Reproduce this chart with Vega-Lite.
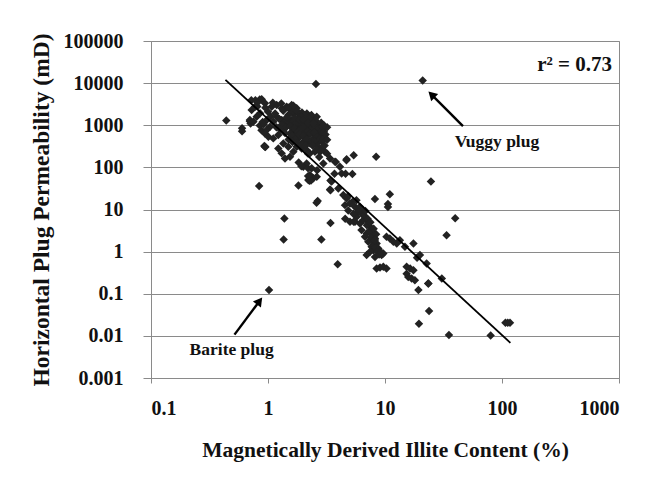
{
  "$schema": "https://vega.github.io/schema/vega-lite/v6.json",
  "width": 468,
  "height": 337,
  "autosize": "none",
  "padding": {"left": 151, "top": 41, "right": 31, "bottom": 101},
  "background": "white",
  "config": {
    "view": {"stroke": "#8a8a8a", "strokeWidth": 1},
    "font": "Liberation Serif"
  },
  "layer": [
    {
      "data": {"values": [
        {"illite":0.44,"perm":1300},{"illite":0.60,"perm":850},{"illite":0.60,"perm":720},{"illite":0.70,"perm":1250},{"illite":0.71,"perm":1100},{"illite":0.70,"perm":1330},{"illite":0.72,"perm":3900},{"illite":0.78,"perm":3900},{"illite":0.85,"perm":4100},{"illite":0.81,"perm":2800},{"illite":0.84,"perm":36},{"illite":0.93,"perm":320},{"illite":0.95,"perm":305},{"illite":0.88,"perm":760},{"illite":0.942,"perm":309},
        {"illite":0.725,"perm":2300},{"illite":0.774,"perm":2760},{"illite":0.827,"perm":3620},{"illite":0.883,"perm":4120},{"illite":0.942,"perm":3310},{"illite":0.855,"perm":1915},{"illite":0.80,"perm":1600},{"illite":0.75,"perm":1215},
        {"illite":1.074,"perm":2760},{"illite":1.186,"perm":3020},{"illite":1.309,"perm":2520},{"illite":1.444,"perm":2760},{"illite":1.593,"perm":3020},{"illite":1.758,"perm":2520},{"illite":1.646,"perm":1915},{"illite":1.492,"perm":1750},{"illite":1.816,"perm":1915},{"illite":1.186,"perm":1600},{"illite":1.11,"perm":1215},{"illite":1.04,"perm":923},{"illite":0.974,"perm":769},{"illite":0.942,"perm":641},{"illite":1.007,"perm":535},{"illite":1.11,"perm":488},{"illite":1.225,"perm":586},{"illite":1.352,"perm":769},{"illite":1.444,"perm":1012},{"illite":1.309,"perm":1330},
        {"illite":1.542,"perm":1110},{"illite":1.758,"perm":923},{"illite":2.005,"perm":1110},{"illite":2.14,"perm":843},{"illite":2.285,"perm":923},{"illite":2.44,"perm":769},{"illite":2.61,"perm":641},{"illite":2.78,"perm":586},{"illite":2.44,"perm":488},{"illite":2.14,"perm":535},{"illite":1.94,"perm":641},{"illite":1.816,"perm":488},{"illite":2.005,"perm":407},{"illite":2.285,"perm":371},{"illite":2.61,"perm":371},{"illite":2.88,"perm":407},{"illite":2.97,"perm":535},{"illite":2.69,"perm":1012},{"illite":2.44,"perm":1330},{"illite":2.21,"perm":1600},{"illite":2.61,"perm":1600},{"illite":2.97,"perm":843},
        {"illite":1.646,"perm":769},{"illite":1.88,"perm":769},{"illite":2.07,"perm":702},{"illite":1.70,"perm":586},{"illite":1.593,"perm":1330},{"illite":1.94,"perm":1450},{"illite":2.36,"perm":1110},{"illite":2.78,"perm":769},{"illite":1.758,"perm":1330},{"illite":1.542,"perm":641},{"illite":2.21,"perm":440},{"illite":2.52,"perm":586},
        {"illite":1.352,"perm":371},{"illite":1.225,"perm":282},{"illite":1.309,"perm":215},{"illite":1.397,"perm":163},{"illite":1.542,"perm":179},{"illite":1.646,"perm":235},{"illite":1.492,"perm":309},{"illite":1.758,"perm":309},{"illite":1.94,"perm":282},{"illite":2.14,"perm":258},{"illite":2.285,"perm":215},{"illite":2.52,"perm":235},{"illite":2.78,"perm":235},{"illite":3.07,"perm":235},{"illite":3.39,"perm":163},{"illite":3.74,"perm":136},{"illite":2.14,"perm":124},{"illite":2.005,"perm":104},{"illite":2.36,"perm":95},{"illite":2.285,"perm":66},{"illite":2.44,"perm":55},{"illite":2.61,"perm":60},{"illite":2.21,"perm":50},
        {"illite":4.70,"perm":155},{"illite":4.12,"perm":104},{"illite":4.26,"perm":72},
        {"illite":1.25,"perm":1400},{"illite":1.38,"perm":1200},{"illite":1.47,"perm":1300},{"illite":1.62,"perm":1180},{"illite":1.70,"perm":1050},{"illite":1.85,"perm":1200},{"illite":1.98,"perm":980},{"illite":2.1,"perm":1250},{"illite":2.25,"perm":1050},{"illite":2.35,"perm":860},{"illite":2.55,"perm":900},{"illite":2.7,"perm":820},{"illite":2.85,"perm":700},{"illite":1.3,"perm":1000},{"illite":1.42,"perm":880},{"illite":1.55,"perm":950},{"illite":1.68,"perm":850},{"illite":1.8,"perm":700},{"illite":1.9,"perm":820},{"illite":2.02,"perm":880},{"illite":2.18,"perm":720},{"illite":2.3,"perm":640},{"illite":2.48,"perm":680},{"illite":2.62,"perm":520},{"illite":2.75,"perm":470},{"illite":1.18,"perm":900},{"illite":1.28,"perm":780},{"illite":1.4,"perm":650},{"illite":1.6,"perm":560},{"illite":1.72,"perm":470},{"illite":1.85,"perm":600},{"illite":2.0,"perm":560},{"illite":2.12,"perm":460},{"illite":2.35,"perm":430},{"illite":2.5,"perm":420},{"illite":1.5,"perm":460},{"illite":1.62,"perm":400},{"illite":1.78,"perm":380},{"illite":1.95,"perm":350},{"illite":2.1,"perm":330},{"illite":2.4,"perm":330},{"illite":2.7,"perm":300},{"illite":1.15,"perm":1900},{"illite":1.35,"perm":2200},{"illite":1.55,"perm":2350},{"illite":1.75,"perm":2200},{"illite":1.95,"perm":2000},{"illite":2.15,"perm":1900},{"illite":2.35,"perm":1750},{"illite":2.55,"perm":1300},{"illite":2.85,"perm":1150},{"illite":1.05,"perm":1600},{"illite":0.98,"perm":1350},{"illite":0.9,"perm":1200},{"illite":0.85,"perm":980},{"illite":0.92,"perm":1050},{"illite":1.0,"perm":2100},{"illite":0.95,"perm":2600},{"illite":1.1,"perm":3400},{"illite":1.3,"perm":3300},{"illite":1.5,"perm":2600},{"illite":1.65,"perm":2900},{"illite":1.45,"perm":1550},{"illite":2.05,"perm":1700},{"illite":2.25,"perm":1400},{"illite":1.9,"perm":1600},{"illite":1.7,"perm":1500},{"illite":1.85,"perm":1350},{"illite":2.0,"perm":1350},{"illite":2.2,"perm":1150},{"illite":2.45,"perm":1100},{"illite":2.9,"perm":950},{"illite":3.0,"perm":700},{"illite":3.1,"perm":600},{"illite":2.95,"perm":460},{"illite":3.2,"perm":450},{"illite":3.05,"perm":330},{"illite":2.85,"perm":280},{"illite":2.6,"perm":270},{"illite":3.2,"perm":900},{"illite":3.0,"perm":1000},
        {"illite":2.2,"perm":212},{"illite":2.8,"perm":240},{"illite":3.2,"perm":212},{"illite":2.74,"perm":177},{"illite":2.97,"perm":123},{"illite":3.8,"perm":135},{"illite":4.6,"perm":71},{"illite":3.7,"perm":71},{"illite":2.2,"perm":95},{"illite":2.63,"perm":85},{"illite":2.33,"perm":49},{"illite":2.2,"perm":62},{"illite":1.83,"perm":130},{"illite":1.93,"perm":107},{"illite":4.68,"perm":148},{"illite":5.4,"perm":195},{"illite":5.26,"perm":70},{"illite":2.26,"perm":48},{"illite":3.39,"perm":30},{"illite":3.5,"perm":46},{"illite":3.99,"perm":31.7},{"illite":4.4,"perm":22},{"illite":4.7,"perm":18.3},{"illite":3.42,"perm":28.6},{"illite":3.42,"perm":49},{"illite":4.85,"perm":21},{"illite":5.26,"perm":15},{"illite":5.7,"perm":16.5},{"illite":2.66,"perm":16},{"illite":2.6,"perm":14.5},
        {"illite":4.55,"perm":12.7},{"illite":5.02,"perm":13.9},{"illite":5.36,"perm":12.7},{"illite":5.73,"perm":10.6},{"illite":5.92,"perm":8.8},{"illite":6.11,"perm":11.6},{"illite":6.53,"perm":8.8},{"illite":6.75,"perm":6.7},{"illite":6.97,"perm":5.6},{"illite":7.2,"perm":4.67},{"illite":7.45,"perm":3.9},{"illite":7.69,"perm":3.24},{"illite":7.95,"perm":2.7},{"illite":8.21,"perm":2.05},{"illite":8.48,"perm":1.56},{"illite":8.77,"perm":1.19},{"illite":9.06,"perm":0.99},{"illite":9.36,"perm":0.83},{"illite":9.67,"perm":0.90},{"illite":6.97,"perm":0.83},{"illite":8.21,"perm":0.75},{"illite":8.48,"perm":0.40},{"illite":9.06,"perm":0.42},{"illite":9.67,"perm":0.44},{"illite":10.3,"perm":0.40},{"illite":5.02,"perm":5.1},{"illite":5.54,"perm":5.1},{"illite":10.3,"perm":2.25},{"illite":11.0,"perm":2.05},{"illite":11.8,"perm":1.71},{"illite":12.6,"perm":1.56},{"illite":13.4,"perm":1.87},{"illite":14.8,"perm":1.30},{"illite":17.5,"perm":1.56},{"illite":15.3,"perm":0.44},{"illite":16.4,"perm":0.40},{"illite":17.5,"perm":0.36},{"illite":15.8,"perm":0.25},{"illite":16.9,"perm":0.23},{"illite":18.0,"perm":0.21},{"illite":15.3,"perm":0.30},{"illite":19.9,"perm":0.83},{"illite":22.7,"perm":0.52},{"illite":23.5,"perm":0.175},{"illite":6.3,"perm":3.24},{"illite":6.75,"perm":2.25},{"illite":7.2,"perm":1.71},{"illite":7.69,"perm":1.30},{"illite":7.95,"perm":1.08},{"illite":7.45,"perm":0.99},{"illite":6.97,"perm":2.7},{"illite":6.11,"perm":4.67},{"illite":5.73,"perm":6.7},{"illite":5.36,"perm":7.9},{"illite":4.85,"perm":9.5},{"illite":6.3,"perm":8.0},{"illite":6.53,"perm":5.6},{"illite":6.2,"perm":10},{"illite":6.6,"perm":7.2},{"illite":7.0,"perm":4.2},{"illite":7.3,"perm":3.0},{"illite":7.6,"perm":2.2},{"illite":7.9,"perm":1.7},{"illite":8.1,"perm":1.4},{"illite":8.3,"perm":1.25},{"illite":8.6,"perm":1.0},{"illite":8.9,"perm":0.85},{"illite":9.3,"perm":0.95},{"illite":7.1,"perm":6.0},{"illite":6.8,"perm":9.2},{"illite":7.5,"perm":5.0},{"illite":8.0,"perm":3.5},{"illite":8.4,"perm":2.6},{"illite":8.2,"perm":1.9},
        {"illite":8.4,"perm":178},{"illite":8.2,"perm":17.8},{"illite":11,"perm":23},{"illite":10.6,"perm":13.5},{"illite":10.6,"perm":11.5},{"illite":24.7,"perm":46},{"illite":39.8,"perm":6.2},{"illite":33.6,"perm":2.45},{"illite":21,"perm":11500},{"illite":18.8,"perm":0.72},{"illite":30.6,"perm":0.23},{"illite":23.8,"perm":0.039},{"illite":19.5,"perm":0.0195},{"illite":35.2,"perm":0.0105},{"illite":80,"perm":0.0102},{"illite":107,"perm":0.0204},{"illite":117,"perm":0.0204},{"illite":112,"perm":0.0204},{"illite":19.3,"perm":0.123},{"illite":23.4,"perm":0.176},{"illite":1.02,"perm":0.122},{"illite":3.94,"perm":0.5},{"illite":1.38,"perm":6.1},{"illite":1.36,"perm":1.95},{"illite":2.86,"perm":1.95},{"illite":1.82,"perm":37},{"illite":3.42,"perm":4.8},{"illite":4.57,"perm":6.0},{"illite":5.4,"perm":5.1},{"illite":2.57,"perm":9500}
      ]},
      "mark": {"type": "point", "shape": "diamond", "filled": true, "size": 72, "color": "#222222", "opacity": 1, "strokeWidth": 0},
      "encoding": {
        "x": {
          "field": "illite", "type": "quantitative",
          "scale": {"type": "log", "domain": [0.1, 1000], "nice": false},
          "axis": {
            "title": "Magnetically Derived Illite Content (%)",
            "values": [0.1, 1, 10, 100, 1000],
            "format": ".1~f",
            "grid": false,
            "domainColor": "#8a8a8a",
            "tickColor": "#8a8a8a",
            "tickSize": 5,
            "labelPadding": 15,
            "labelFont": "Liberation Serif", "labelFontWeight": "bold", "labelFontSize": 20, "labelColor": "#111111",
            "titleFont": "Liberation Serif", "titleFontWeight": "bold", "titleFontSize": 21.5, "titleColor": "#111111",
            "titlePadding": 21
          }
        },
        "y": {
          "field": "perm", "type": "quantitative",
          "scale": {"type": "log", "domain": [0.001, 100000], "nice": false},
          "axis": {
            "title": "Horizontal Plug Permeability (mD)",
            "values": [0.001, 0.01, 0.1, 1, 10, 100, 1000, 10000, 100000],
            "format": ".3~f",
            "grid": true,
            "gridColor": "#8a8a8a",
            "gridWidth": 1,
            "domainColor": "#8a8a8a",
            "tickColor": "#8a8a8a",
            "tickSize": 8,
            "labelPadding": 20,
            "labelFont": "Liberation Serif", "labelFontWeight": "bold", "labelFontSize": 20, "labelColor": "#111111",
            "titleFont": "Liberation Serif", "titleFontWeight": "bold", "titleFontSize": 23.5, "titleColor": "#111111",
            "titlePadding": 10
          }
        }
      }
    },
    {
      "data": {"values": [{"illite": 0.433, "perm": 12000}, {"illite": 118, "perm": 0.0068}]},
      "mark": {"type": "line", "color": "#000000", "strokeWidth": 1.8},
      "encoding": {
        "x": {"field": "illite", "type": "quantitative"},
        "y": {"field": "perm", "type": "quantitative"}
      }
    },
    {
      "data": {"values": [
        {"illite": 46.4, "perm": 957, "illite2": 25.0, "perm2": 5360},
        {"illite": 0.517, "perm": 0.0107, "illite2": 0.847, "perm2": 0.0675}
      ]},
      "mark": {"type": "rule", "color": "#000000", "strokeWidth": 2.4},
      "encoding": {
        "x": {"field": "illite", "type": "quantitative"},
        "y": {"field": "perm", "type": "quantitative"},
        "x2": {"field": "illite2"},
        "y2": {"field": "perm2"}
      }
    },
    {
      "data": {"values": [{"illite": 25.0, "perm": 5360}]},
      "mark": {"type": "point", "shape": "triangle-up", "filled": true, "size": 100, "color": "#000000", "opacity": 1, "angle": 314},
      "encoding": {
        "x": {"field": "illite", "type": "quantitative"},
        "y": {"field": "perm", "type": "quantitative"}
      }
    },
    {
      "data": {"values": [{"illite": 0.847, "perm": 0.0675}]},
      "mark": {"type": "point", "shape": "triangle-up", "filled": true, "size": 100, "color": "#000000", "opacity": 1, "angle": 37},
      "encoding": {
        "x": {"field": "illite", "type": "quantitative"},
        "y": {"field": "perm", "type": "quantitative"}
      }
    },
    {
      "data": {"values": [
        {"illite": 90.6, "perm": 399, "label": "Vuggy plug"},
        {"illite": 0.489, "perm": 0.00455, "label": "Barite plug"}
      ]},
      "mark": {"type": "text", "font": "Liberation Serif", "fontWeight": "bold", "fontSize": 17.5, "color": "#111111", "align": "center", "baseline": "middle"},
      "encoding": {
        "x": {"field": "illite", "type": "quantitative"},
        "y": {"field": "perm", "type": "quantitative"},
        "text": {"field": "label"}
      }
    },
    {
      "data": {"values": [{"illite": 871, "perm": 26900, "label": "r² = 0.73"}]},
      "mark": {"type": "text", "font": "Liberation Serif", "fontWeight": "bold", "fontSize": 21, "color": "#111111", "align": "right", "baseline": "middle"},
      "encoding": {
        "x": {"field": "illite", "type": "quantitative"},
        "y": {"field": "perm", "type": "quantitative"},
        "text": {"field": "label"}
      }
    }
  ]
}
